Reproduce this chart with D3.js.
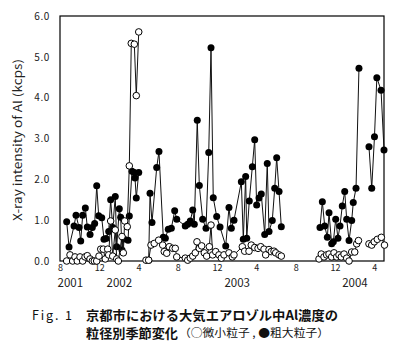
<!DOCTYPE html>
<html>
<head>
<meta charset="utf-8">
<script src="https://cdn.jsdelivr.net/npm/d3@7"></script>
<style>
  html, body { margin: 0; padding: 0; background: #fff; }
  svg { display: block; }
</style>
</head>
<body>
<svg id="chart" width="400" height="353"></svg>
<script>
// ---- data (x = months after 1 Aug 2001; null marks a break in the line) ----
const coarseMonths = [
  0.68,0.92,1.43,1.63,1.94,2.11,2.31,2.58,2.78,3.06,3.29,3.53,3.74,3.94,4.25,4.48,4.69,4.96,5.16,5.37,
  5.63,5.78,6.04,6.18,6.31,6.52,6.93,7.06,7.33,7.57,7.64,7.77,8.02, null,
  9.03,9.17,9.37,9.85,10.08,10.52,10.73,11.03,11.34,11.68,11.89,12.76,13.01,13.27,13.52,13.68,13.98,14.19,14.53,14.87,
  15.15,15.38,15.61,15.96,16.30,16.88,17.21,17.45,17.72,18.47,18.67,18.91,19.02,19.28,19.59,19.83,20.03,20.27,20.50,20.85,
  21.11,21.29,21.62,21.87,22.07,22.31,22.54, null,
  26.48,26.72,26.96,27.23,27.40,27.67,27.84,28.08,28.31,28.52,28.75,29.00,29.20,29.44,29.71,29.87,30.15,30.45, null,
  31.47,31.75,32.03,32.27,32.70,33.00
];
const coarseValues = [
  0.96,0.34,0.86,1.12,0.82,0.49,1.12,1.30,0.83,0.65,0.82,0.92,1.84,1.11,1.06,0.53,0.55,0.72,1.50,0.82,
  1.58,0.35,1.28,1.07,0.27,0.54,0.51,1.10,2.20,2.17,2.03,1.54,2.17, null,
  0.02,1.66,0.94,2.29,2.68,0.58,0.56,0.78,0.80,1.23,1.02,0.86,0.90,0.98,1.25,0.90,3.45,1.85,1.02,0.80,
  2.66,5.22,1.55,1.09,0.83,0.37,1.31,0.80,1.00,1.94,0.53,2.07,0.56,1.47,2.31,2.97,1.37,1.54,1.64,0.65,
  2.39,0.72,0.99,1.78,2.53,1.70,0.84, null,
  0.82,1.45,0.86,0.58,1.18,0.42,0.47,1.02,0.56,0.86,1.35,1.70,1.02,0.50,0.99,1.43,1.78,4.72, null,
  2.80,1.78,3.04,4.49,4.18,2.72
];
const fineMonths = [
  0.68,1.02,1.29,1.53,1.76,2.04,2.31,2.55,2.78,3.06,3.29,3.49,3.74,3.97,4.15,4.41,4.61,4.86,4.96,5.16,
  5.37,5.63,5.78,5.94,6.31,6.45,6.59,6.85,7.06,7.26,7.57,7.77,8.02, null,
  8.76,9.03,9.27,9.60,10.05,10.46,10.62,10.87,11.13,11.48,11.74,11.89,12.76,13.01,13.27,13.52,13.78,13.95,14.19,14.43,
  14.70,14.94,15.21,15.38,15.55,15.86,16.19,16.43,16.70,17.21,17.55,17.72,18.57,18.81,19.25,19.48,19.83,20.17,20.44,20.78,
  20.95,21.29,21.52,21.80,21.97,22.31,22.54, null,
  26.38,26.61,26.89,27.16,27.40,27.67,27.91,28.18,28.42,28.65,28.93,29.20,29.44,29.71,30.02,30.22,30.40, null,
  31.47,31.75,32.01,32.32,32.73,33.05
];
const fineValues = [
  0.00,0.15,0.00,0.10,0.00,0.10,0.00,0.10,0.13,0.05,0.00,0.00,0.00,0.12,0.29,0.29,0.05,0.29,0.15,0.98,
  0.12,0.76,0.05,0.00,0.60,0.20,0.98,0.84,2.33,5.33,5.31,4.05,5.61, null,
  0.02,0.02,0.39,0.43,0.51,0.39,0.23,0.19,0.35,0.31,0.31,0.10,0.07,0.02,0.07,0.12,0.20,0.47,0.31,0.37,
  0.20,0.12,0.35,0.88,0.15,0.23,0.15,0.07,0.15,0.20,0.10,0.15,0.35,0.24,0.24,0.39,0.33,0.31,0.35,0.29,
  0.15,0.28,0.23,0.24,0.20,0.15,0.12, null,
  0.05,0.17,0.10,0.15,0.17,0.10,0.20,0.10,0.15,0.10,0.17,0.07,0.00,0.22,0.22,0.42,0.50, null,
  0.42,0.39,0.47,0.53,0.58,0.39
];
const yTicks = [0, 1, 2, 3, 4, 5, 6];
const monthTicks = [0, 4, 8, 12, 16, 20, 24, 28, 32];
const monthLabels = ["8", "12", "4", "8", "12", "4", "8", "12", "4"];
const yearTickMonths = [0, 5, 17, 29];
const yearLabels = ["2001", "2002", "2003", "2004"];
const yTitle = "X-ray intensity of Al (kcps)";
const captionFig = "Fig. 1";
const captionLine1 = "京都市における大気エアロゾル中Al濃度の";
const captionLine2a = "粒径別季節変化";
const captionLine2b = "（○微小粒子 , ●粗大粒子）";

// ---- drawing ----
const svg = d3.select("#chart");
const plotLeft = 60, plotRight = 384, plotTop = 16, plotBottom = 261;

const x = d3.scaleLinear().domain([0, 33]).range([plotLeft, plotRight]);
const y = d3.scaleLinear().domain([0, 6]).range([plotBottom, plotTop]);

const jp = "'Noto Sans CJK JP', 'Noto Sans', sans-serif";

// frame
svg.append("rect")
  .attr("x", plotLeft).attr("y", plotTop)
  .attr("width", plotRight - plotLeft).attr("height", plotBottom - plotTop)
  .attr("fill", "none").attr("stroke", "#000").attr("stroke-width", 1.2);

// y axis
const yAxis = svg.append("g")
  .attr("transform", `translate(${plotLeft},0)`)
  .call(d3.axisLeft(y).tickValues(yTicks).tickFormat(d3.format(".1f")).tickSize(0).tickPadding(10));
yAxis.select(".domain").remove();
yAxis.selectAll("text").attr("font-family", jp).attr("font-size", 10).attr("fill", "#222")
  .attr("letter-spacing", 0.6);

// x axis (month labels)
const xAxis = svg.append("g")
  .attr("transform", `translate(0,${plotBottom})`)
  .call(d3.axisBottom(x).tickValues(monthTicks).tickFormat((d, i) => monthLabels[i]).tickSize(0).tickPadding(4));
xAxis.select(".domain").remove();
xAxis.selectAll("text").attr("font-family", jp).attr("font-size", 9).attr("fill", "#222");

// year labels
svg.append("g").selectAll("text")
  .data(yearLabels)
  .join("text")
  .attr("x", (d, i) => x(yearTickMonths[i]) - 2.5)
  .attr("y", 286.5)
  .attr("font-family", jp).attr("font-size", 11.5).attr("fill", "#222")
  .attr("text-anchor", "start")
  .text(d => d);

// y title
svg.append("text")
  .attr("transform", `translate(22,140) rotate(-90)`)
  .attr("text-anchor", "middle")
  .attr("font-family", jp).attr("font-size", 11.5).attr("fill", "#222")
  .attr("textLength", 162).attr("lengthAdjust", "spacingAndGlyphs")
  .text(yTitle);

// series
function toPoints(ms, vs) {
  return ms.map((m, i) => ({ m, v: vs[i] }));
}
const coarse = toPoints(coarseMonths, coarseValues);
const fine = toPoints(fineMonths, fineValues);

const line = d3.line()
  .defined(d => d.m !== null && d.v !== null)
  .x(d => x(d.m)).y(d => y(d.v));

svg.append("path").datum(coarse)
  .attr("d", line).attr("fill", "none").attr("stroke", "#111").attr("stroke-width", 1);
svg.append("g").selectAll("circle")
  .data(coarse.filter(d => d.m !== null))
  .join("circle")
  .attr("cx", d => x(d.m)).attr("cy", d => y(d.v)).attr("r", 3.5)
  .attr("fill", "#000");

svg.append("path").datum(fine)
  .attr("d", line).attr("fill", "none").attr("stroke", "#111").attr("stroke-width", 1);
svg.append("g").selectAll("circle")
  .data(fine.filter(d => d.m !== null))
  .join("circle")
  .attr("cx", d => x(d.m)).attr("cy", d => y(d.v)).attr("r", 3.3)
  .attr("fill", "#fff").attr("stroke", "#000").attr("stroke-width", 1);

// caption
svg.append("text")
  .attr("x", 32).attr("y", 320)
  .attr("font-family", jp).attr("font-size", 12.5).attr("fill", "#111")
  .attr("textLength", 40).attr("lengthAdjust", "spacing")
  .text(captionFig);
svg.append("text")
  .attr("x", 86).attr("y", 320)
  .attr("font-family", jp).attr("font-size", 13).attr("font-weight", 700).attr("fill", "#111")
  .attr("textLength", 252).attr("lengthAdjust", "spacingAndGlyphs")
  .text(captionLine1);
svg.append("text")
  .attr("x", 86).attr("y", 338)
  .attr("font-family", jp).attr("font-size", 13).attr("font-weight", 700).attr("fill", "#111")
  .attr("textLength", 92).attr("lengthAdjust", "spacingAndGlyphs")
  .text(captionLine2a);
svg.append("text")
  .attr("x", 179).attr("y", 337)
  .attr("font-family", jp).attr("font-size", 11).attr("fill", "#111")
  .attr("textLength", 150).attr("lengthAdjust", "spacingAndGlyphs")
  .text(captionLine2b);
</script>
</body>
</html>
